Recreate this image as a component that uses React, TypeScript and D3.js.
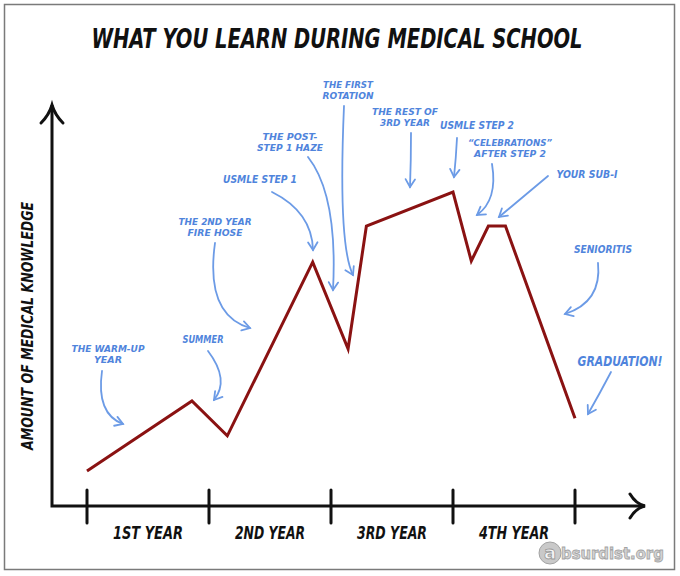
import React from "react";
import * as d3 from "d3";

// ---- data ----
const years = [0, 0.86, 1.15, 1.85, 2.14, 2.29, 3.0, 3.15, 3.29, 3.43, 4.0];
const knowledge = [8.7, 26.2, 17.5, 60.8, 39.2, 69.8, 78.3, 61.1, 69.8, 69.8, 21.9];
const yearTicks = [0, 1, 2, 3, 4];
const yearLabels = ["1ST YEAR", "2ND YEAR", "3RD YEAR", "4TH YEAR"];
const title = "WHAT YOU LEARN DURING MEDICAL SCHOOL";
const yTitle = "AMOUNT OF MEDICAL KNOWLEDGE";
const annotationTexts = [
  ["THE WARM-UP", "YEAR"],
  ["SUMMER"],
  ["THE 2ND YEAR", "FIRE HOSE"],
  ["USMLE STEP 1"],
  ["THE POST-", "STEP 1 HAZE"],
  ["THE FIRST", "ROTATION"],
  ["THE REST OF", "3RD YEAR"],
  ["USMLE STEP 2"],
  ["\u201CCELEBRATIONS\u201D", "AFTER STEP 2"],
  ["YOUR SUB-I"],
  ["SENIORITIS"],
  ["GRADUATION!"],
];

// ---- layout (pixels) for annotations ----
type Ann = { cx: number; y0: number; lh: number; fs: number; widths: number[]; path: number[][] };
const annLayout: Ann[] = [
  { cx: 108, y0: 352, lh: 11, fs: 9.2, widths: [73, 28], path: [[102, 371], [96, 414], [123, 424]] },
  { cx: 203, y0: 343, lh: 11, fs: 10.5, widths: [41], path: [[208, 351], [230, 380], [214, 400]] },
  { cx: 215, y0: 225, lh: 11, fs: 9.2, widths: [73, 55], path: [[215, 243], [205, 315], [250, 328]] },
  { cx: 260, y0: 183, lh: 11, fs: 10.5, widths: [74], path: [[272, 192], [312, 212], [313, 250]] },
  { cx: 290, y0: 140, lh: 11, fs: 9.2, widths: [55, 66], path: [[308, 157], [338, 195], [333, 290]] },
  { cx: 348, y0: 88, lh: 11, fs: 9.2, widths: [50, 51], path: [[344, 106], [338, 245], [353, 275]] },
  { cx: 405, y0: 115, lh: 11, fs: 9.2, widths: [66, 50], path: [[411, 133], [411, 160], [410, 187]] },
  { cx: 477, y0: 129, lh: 11, fs: 10.5, widths: [74], path: [[457, 138], [456, 158], [454, 177]] },
  { cx: 510, y0: 146, lh: 11, fs: 9.2, widths: [84, 72], path: [[492, 164], [498, 200], [477, 215]] },
  { cx: 587, y0: 178, lh: 11, fs: 10.5, widths: [61], path: [[548, 176], [523, 197], [499, 217]] },
  { cx: 603, y0: 253, lh: 11, fs: 10.5, widths: [58], path: [[598, 263], [602, 302], [565, 314]] },
  { cx: 620, y0: 366, lh: 14, fs: 14, widths: [85], path: [[611, 372], [600, 393], [588, 414]] },
];

const W = 680;
const H = 576;
const FONT = "'DejaVu Sans Condensed', 'DejaVu Sans', sans-serif";
const RED = "#8a1212";
const BLUE = "#4f84dc";
const BLUE_LINE = "#6c9be6";

export default function App() {
  const x = d3.scaleLinear().domain([0, 4]).range([87, 575]);
  const y = d3.scaleLinear().domain([0, 100]).range([506, 105]);
  const axisX0 = 52;
  const axisY0 = y(0);
  const yTop = y(100);
  const xEnd = 645;

  const line = d3
    .line<number>()
    .x((_, i) => x(years[i]))
    .y((d) => y(d));
  const pathD = line(knowledge) || "";

  const arrowHead = (tip: number[], from: number[], len = 9, ang = 0.55) => {
    const a = Math.atan2(tip[1] - from[1], tip[0] - from[0]);
    const p1 = [tip[0] - len * Math.cos(a - ang), tip[1] - len * Math.sin(a - ang)];
    const p2 = [tip[0] - len * Math.cos(a + ang), tip[1] - len * Math.sin(a + ang)];
    return `M${p1[0]},${p1[1]} Q${tip[0] - 2 * Math.cos(a - ang)},${tip[1] - 2 * Math.sin(a - ang)} ${tip[0]},${tip[1]} Q${tip[0] - 2 * Math.cos(a + ang)},${tip[1] - 2 * Math.sin(a + ang)} ${p2[0]},${p2[1]}`;
  };

  return (
    <svg
      width={W}
      height={H}
      style={{ position: "absolute", left: 0, top: 0, background: "#fff" }}
    >
      <rect x={0} y={0} width={W} height={H} fill="#fff" />
      <rect x={4.5} y={4.5} width={670} height={565} fill="none" stroke="#7a7a7a" strokeWidth={1.5} />

      {/* title */}
      <text
        x={337}
        y={48}
        textAnchor="middle"
        fontFamily={FONT}
        fontStyle="italic"
        fontWeight="bold"
        fontSize={26}
        textLength={491}
        lengthAdjust="spacingAndGlyphs"
        fill="#111"
      >
        {title}
      </text>

      {/* axes */}
      <path
        d={`M${axisX0},${yTop} L${axisX0},${axisY0} L${xEnd},${axisY0}`}
        fill="none"
        stroke="#111"
        strokeWidth={3}
      />
      <path
        d={`M${axisX0 - 11},${yTop + 18} Q${axisX0 - 3},${yTop + 10} ${axisX0},${yTop} Q${axisX0 + 3},${yTop + 10} ${axisX0 + 11},${yTop + 18}`}
        fill="none"
        stroke="#111"
        strokeWidth={3}
        strokeLinecap="round"
      />
      <path
        d={`M${xEnd - 15},${axisY0 - 12} Q${xEnd - 9},${axisY0 - 2} ${xEnd},${axisY0} Q${xEnd - 9},${axisY0 + 2} ${xEnd - 15},${axisY0 + 12}`}
        fill="none"
        stroke="#111"
        strokeWidth={3}
        strokeLinecap="round"
      />
      {yearTicks.map((t) => (
        <line
          key={t}
          x1={x(t)}
          x2={x(t)}
          y1={axisY0 - 16}
          y2={axisY0 + 17}
          stroke="#111"
          strokeWidth={3}
          strokeLinecap="round"
        />
      ))}
      {yearLabels.map((lab, i) => (
        <text
          key={lab}
          x={x(i + 0.5)}
          y={539}
          textAnchor="middle"
          fontFamily={FONT}
          fontStyle="italic"
          fontWeight="bold"
          fontSize={17}
          textLength={70}
          lengthAdjust="spacingAndGlyphs"
          fill="#111"
        >
          {lab}
        </text>
      ))}
      <text
        transform={`translate(33,326) rotate(-90)`}
        textAnchor="middle"
        fontFamily={FONT}
        fontStyle="italic"
        fontWeight="bold"
        fontSize={15}
        textLength={248}
        lengthAdjust="spacingAndGlyphs"
        fill="#111"
      >
        {yTitle}
      </text>

      {/* data line */}
      <path d={pathD} fill="none" stroke={RED} strokeWidth={3} strokeLinejoin="miter" />

      {/* annotations */}
      {annotationTexts.map((lines, i) => {
        const L = annLayout[i];
        const [s, c, e] = L.path;
        return (
          <g key={i}>
            {lines.map((t, j) => (
              <text
                key={j}
                x={L.cx}
                y={L.y0 + j * L.lh}
                textAnchor="middle"
                fontFamily={FONT}
                fontStyle="italic"
                fontWeight="bold"
                fontSize={L.fs}
                textLength={L.widths[j]}
                lengthAdjust="spacingAndGlyphs"
                fill={BLUE}
              >
                {t}
              </text>
            ))}
            <path
              d={`M${s[0]},${s[1]} Q${c[0]},${c[1]} ${e[0]},${e[1]}`}
              fill="none"
              stroke={BLUE_LINE}
              strokeWidth={1.8}
              strokeLinecap="round"
            />
            <path
              d={arrowHead(e, c)}
              fill="none"
              stroke={BLUE_LINE}
              strokeWidth={1.8}
              strokeLinecap="round"
            />
          </g>
        );
      })}

      {/* watermark */}
      <g opacity={0.9}>
        <circle cx={550} cy={553} r={11} fill="#c4c4c4" stroke="#9a9a9a" strokeWidth={1} />
        <text
          x={550}
          y={559}
          textAnchor="middle"
          fontFamily="'DejaVu Sans', sans-serif"
          fontWeight="bold"
          fontSize={18}
          fill="#f4f4f4"
          stroke="#8f8f8f"
          strokeWidth={0.8}
        >
          a
        </text>
        <text
          x={561}
          y={559}
          fontFamily="'DejaVu Sans Condensed', 'DejaVu Sans', sans-serif"
          fontWeight="bold"
          fontSize={16.5}
          fill="#d0d0d0"
          stroke="#9a9a9a"
          strokeWidth={0.8}
        >
          bsurdist.org
        </text>
      </g>
    </svg>
  );
}
